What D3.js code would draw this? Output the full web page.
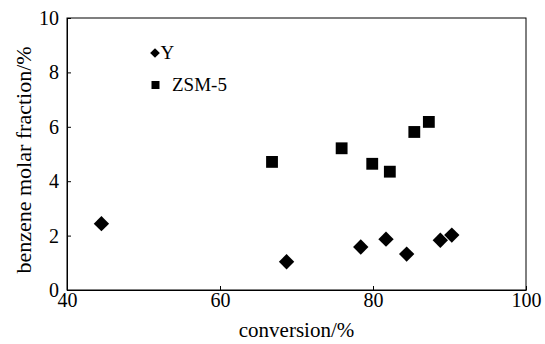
<!DOCTYPE html>
<html>
<head>
<meta charset="utf-8">
<script src="https://d3js.org/d3.v7.min.js"></script>
<style>
  body { margin: 0; background: #fff; }
  svg text { font-family: 'Liberation Serif', 'Times New Roman', Times, serif; fill: #000; }
</style>
</head>
<body>
<div id="chart"></div>
<script>
// data
const yConv = [44.5, 68.7, 78.4, 81.7, 84.4, 88.8, 90.3];
const yBenzene = [2.44, 1.04, 1.58, 1.87, 1.32, 1.83, 2.02];
const zsmConv = [66.8, 75.9, 79.9, 82.2, 85.4, 87.3];
const zsmBenzene = [4.71, 5.21, 4.64, 4.35, 5.81, 6.18];
const xTicks = [40, 60, 80, 100];
const yTicks = [0, 2, 4, 6, 8, 10];

const width = 545, height = 344;
const margin = { top: 18, right: 19, bottom: 54, left: 67 };

const svg = d3.select('#chart').append('svg')
  .attr('width', width)
  .attr('height', height);

const x = d3.scaleLinear().domain([40, 100]).range([margin.left, width - margin.right]);
const y = d3.scaleLinear().domain([0, 10]).range([height - margin.bottom, margin.top]);

// frame
svg.append('rect')
  .attr('x', x(40)).attr('y', y(10))
  .attr('width', x(100) - x(40)).attr('height', y(0) - y(10))
  .attr('fill', 'none').attr('stroke', '#000').attr('stroke-width', 1);

// axes, ticks pointing inward
const xAxis = svg.append('g')
  .attr('transform', `translate(0,${y(0)})`)
  .call(d3.axisBottom(x).tickValues(xTicks).tickSizeInner(-4).tickSizeOuter(0).tickPadding(3));
const yAxis = svg.append('g')
  .attr('transform', `translate(${x(40)},0)`)
  .call(d3.axisLeft(y).tickValues(yTicks).tickSizeInner(-4).tickSizeOuter(0).tickPadding(8));

[xAxis, yAxis].forEach(g => {
  g.attr('font-family', null).attr('font-size', null);
  g.select('.domain').attr('stroke', '#000');
  g.selectAll('.tick line').attr('stroke', '#000');
  g.selectAll('.tick text')
    .style('font-size', '20px')
    .attr('fill', '#000');
});

// axis titles
svg.append('text')
  .attr('x', (x(40) + x(100)) / 2)
  .attr('y', 337)
  .attr('text-anchor', 'middle')
  .style('font-size', '21px')
  .text('conversion/%');

svg.append('text')
  .attr('transform', `translate(31,160) rotate(-90)`)
  .attr('text-anchor', 'middle')
  .style('font-size', '22px')
  .text('benzene molar fraction/%');

const diamond = d3.symbol().type(d3.symbolDiamond2).size(150);
const square = d3.symbol().type(d3.symbolSquare).size(140);

// Y zeolite: diamonds
svg.append('g').selectAll('path')
  .data(yConv.map((c, i) => [c, yBenzene[i]]))
  .join('path')
  .attr('d', diamond)
  .attr('transform', d => `translate(${x(d[0])},${y(d[1])})`)
  .attr('fill', '#000');

// ZSM-5: squares
svg.append('g').selectAll('path')
  .data(zsmConv.map((c, i) => [c, zsmBenzene[i]]))
  .join('path')
  .attr('d', square)
  .attr('transform', d => `translate(${x(d[0])},${y(d[1])})`)
  .attr('fill', '#000');

// legend
const legend = svg.append('g');
legend.append('path')
  .attr('d', d3.symbol().type(d3.symbolDiamond2).size(60))
  .attr('transform', 'translate(155,53)');
legend.append('text').attr('x', 160.5).attr('y', 59).style('font-size', '19px').text('Y');
legend.append('path')
  .attr('d', d3.symbol().type(d3.symbolSquare).size(64))
  .attr('transform', 'translate(155.5,85)');
legend.append('text').attr('x', 172).attr('y', 91).style('font-size', '19px').text('ZSM-5');
</script>
</body>
</html>
